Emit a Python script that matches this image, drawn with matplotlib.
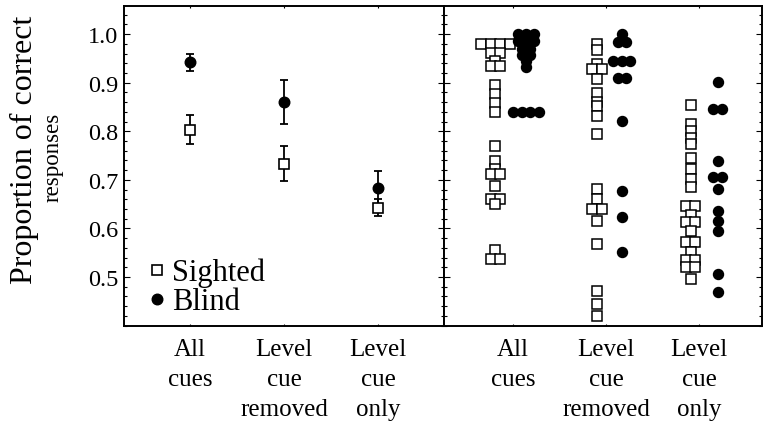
import matplotlib

matplotlib.use("Agg")
import matplotlib.pyplot as plt
import numpy as np
from matplotlib.lines import Line2D
from matplotlib.ticker import FixedLocator, MultipleLocator

plt.rcParams["font.family"] = ["Liberation Serif", "DejaVu Serif"]

# condition labels
conditions = ["All\ncues", "Level\ncue\nremoved", "Level\ncue\nonly"]
y_ticks = [0.5, 0.6, 0.7, 0.8, 0.9, 1.0]

# left panel: group means and error bars
sighted_mean = [0.803, 0.733, 0.643]
sighted_err = [0.030, 0.036, 0.017]
blind_mean = [0.942, 0.860, 0.683]
blind_err = [0.018, 0.045, 0.036]

# right panel: individual participants
sighted_all = [0.980, 0.980, 0.980, 0.980, 0.962, 0.962, 0.945, 0.935, 0.935,
               0.895, 0.877, 0.858, 0.839, 0.769, 0.739, 0.722, 0.713, 0.713,
               0.687, 0.660, 0.660, 0.650, 0.556, 0.536, 0.536]
sighted_removed = [0.980, 0.967, 0.938, 0.928, 0.928, 0.907, 0.879, 0.860,
                   0.853, 0.832, 0.794, 0.681, 0.660, 0.640, 0.640, 0.616,
                   0.568, 0.472, 0.444, 0.420]
sighted_only = [0.854, 0.815, 0.801, 0.787, 0.774, 0.746, 0.722, 0.702, 0.685,
                0.647, 0.647, 0.628, 0.613, 0.613, 0.595, 0.571, 0.571, 0.551,
                0.534, 0.534, 0.520, 0.520, 0.496]
blind_all = [1.000, 1.000, 1.000, 0.985, 0.985, 0.985, 0.970, 0.970, 0.958,
             0.958, 0.945, 0.932, 0.840, 0.840, 0.840, 0.840]
blind_removed = [1.000, 0.983, 0.983, 0.945, 0.945, 0.945, 0.909, 0.909,
                 0.822, 0.676, 0.623, 0.551]
blind_only = [0.902, 0.846, 0.846, 0.738, 0.705, 0.705, 0.681, 0.636, 0.616,
              0.595, 0.506, 0.468]

sighted_points = [sighted_all, sighted_removed, sighted_only]
blind_points = [blind_all, blind_removed, blind_only]

# layout
W, H = 767, 435
BOTTOM_PX, TOP_PX = 327, 7
SIGHTED_DX = [-0.19, -0.10, -0.09]
BLIND_DX = [0.14, 0.17, 0.20]
SQ_STEP = 0.104
CI_STEP = 0.090
YLIM = (0.399, 1.058)
FS = 17.5

SQUARE = dict(marker="s", mfc="white", mec="black", mew=1.2, ms=6.8)
CIRCLE = dict(marker="o", mfc="black", mec="black", ms=7.6)


def swarm_offsets(values, step):
    """Spread identical values side by side, centred on the column."""
    values = np.asarray(values)
    offsets = np.zeros(len(values))
    for v in np.unique(values):
        idx = np.where(values == v)[0]
        k = len(idx)
        offsets[idx] = (np.arange(k) - (k - 1) / 2) * step
    return offsets


def style_axes(ax, xlim):
    ax.set_xlim(*xlim)
    ax.set_ylim(*YLIM)
    ax.set_xticks([1, 2, 3])
    ax.set_xticklabels(conditions, fontsize=18, linespacing=1.45, va="top")
    ax.yaxis.set_major_locator(FixedLocator(y_ticks))
    ax.yaxis.set_minor_locator(MultipleLocator(0.02))
    ax.tick_params(axis="y", which="both", direction="in", left=True, right=True,
                   width=0.8, labelsize=FS, pad=4)
    ax.tick_params(axis="y", which="major", length=4.5)
    ax.tick_params(axis="y", which="minor", length=2.2)
    ax.tick_params(axis="x", which="both", direction="in", top=True, bottom=True,
                   length=1.5, width=0.8, pad=9)
    for sp in ax.spines.values():
        sp.set_linewidth(1.4)


fig = plt.figure(figsize=(W / 100, H / 100), dpi=100)
ax_h = (BOTTOM_PX - TOP_PX) / H
ax_b = (H - BOTTOM_PX) / H
ax1 = fig.add_axes([124 / W, ax_b, 320 / W, ax_h])
ax2 = fig.add_axes([444 / W, ax_b, 318 / W, ax_h])

# left panel: means with error bars
x = np.arange(1, len(conditions) + 1)
ax1.errorbar(x, blind_mean, yerr=blind_err, fmt="none", ecolor="black",
             elinewidth=1.3, capsize=2.6, capthick=1.3, zorder=2)
ax1.plot(x, blind_mean, ls="none", zorder=3, **CIRCLE)
ax1.errorbar(x, sighted_mean, yerr=sighted_err, fmt="none", ecolor="black",
             elinewidth=1.3, capsize=2.6, capthick=1.3, zorder=4)
ax1.plot(x, sighted_mean, ls="none", zorder=5, **SQUARE)

legend_handles = [
    Line2D([0], [0], ls="none", label="Sighted", **SQUARE),
    Line2D([0], [0], ls="none", label="Blind", **CIRCLE),
]
ax1.legend(handles=legend_handles, loc="lower left", frameon=False,
           fontsize=22, handlelength=0.5, handletextpad=0.25, labelspacing=0.0,
           borderaxespad=0.0, borderpad=0.0, bbox_to_anchor=(0.079, 0.03))

# right panel: individual participants
for i in range(len(conditions)):
    s = np.asarray(sighted_points[i])
    b = np.asarray(blind_points[i])
    ax2.plot(i + 1 + SIGHTED_DX[i] + swarm_offsets(s, SQ_STEP), s, ls="none",
             marker="s", ms=6.6, mfc="white", mec="black", mew=1.1, zorder=3)
    ax2.plot(i + 1 + BLIND_DX[i] + swarm_offsets(b, CI_STEP), b, ls="none",
             marker="o", ms=7.2, mfc="black", mec="black", zorder=3)

style_axes(ax1, (0.298, 3.702))
style_axes(ax2, (0.258, 3.677))
ax2.tick_params(axis="y", labelleft=False)

fig.text(24 / W, 1 - 150 / H, "Proportion of correct", rotation=90,
         ha="center", va="center", fontsize=23)
fig.text(53 / W, 1 - 157 / H, "responses", rotation=90,
         ha="center", va="center", fontsize=16.5)

fig.savefig("out.png", dpi=100)
